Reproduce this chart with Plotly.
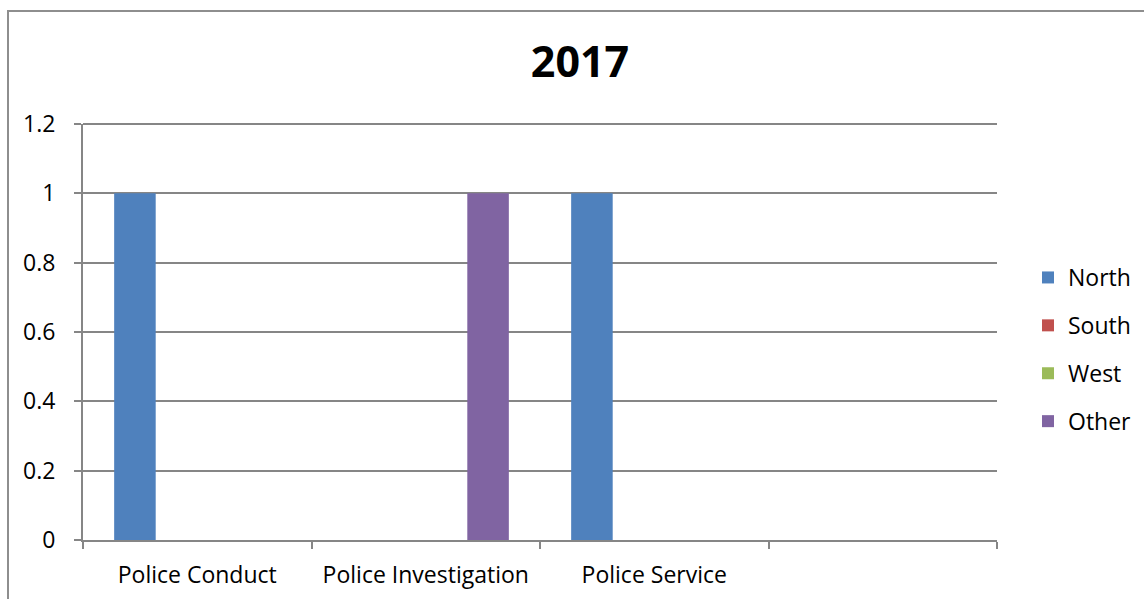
import plotly.graph_objects as go

# Complaint categories (the fourth slot is an empty category on the axis)
categories = ["Police Conduct", "Police Investigation", "Police Service", " "]

# Counts per region for each category
north = [1, 0, 1, None]
south = [0, 0, 0, None]
west = [0, 0, 0, None]
other = [0, 1, 0, None]

series = [
    ("North", north, "#4F81BD"),
    ("South", south, "#C0504D"),
    ("West", west, "#9BBB59"),
    ("Other", other, "#8064A2"),
]

Y_MAX = 1.2

W, H = 1144, 599
L, R, T, B = 83, 147, 124, 59
pw, ph = W - L - R, H - T - B

GRID = "#868686"
FONT = "Open Sans"
FS = 23

fig = go.Figure()
for name, vals, color in series:
    fig.add_trace(go.Bar(
        x=categories, y=vals, name=name, legendgroup=name,
        marker=dict(color=color, line=dict(width=0)),
    ))

# outer chart frame
def px_x(px):
    return (px - L) / pw

def px_y(py):
    return (H - B - py) / ph

fig.add_shape(type="rect", xref="paper", yref="paper",
              x0=px_x(8), x1=px_x(1160), y0=px_y(620), y1=px_y(11),
              line=dict(color="#8E8E8E", width=2), fillcolor="rgba(0,0,0,0)",
              layer="below")

# gridline along the top edge of the plot (top of the value range)
fig.add_shape(type="line", xref="paper", yref="paper",
              x0=0, x1=1, y0=1, y1=1,
              line=dict(color=GRID, width=2), layer="below")

fig.update_layout(
    width=W, height=H,
    margin=dict(l=L, r=R, t=T, b=B, autoexpand=False),
    paper_bgcolor="white", plot_bgcolor="white",
    font=dict(family=FONT, size=FS, color="#000000"),
    title=dict(text="<b>2017</b>", x=580 / W, xanchor="center",
               y=1 - 62 / H, yanchor="middle",
               font=dict(family=FONT, size=43, color="#000000")),
    barmode="group", bargap=1.5 / 5.5, bargroupgap=0,
    showlegend=True,
    legend=dict(x=px_x(1028), xanchor="left", y=px_y(256), yanchor="top",
                font=dict(family=FONT, size=FS, color="#000000"),
                tracegroupgap=15, bgcolor="rgba(0,0,0,0)", borderwidth=0,
                itemwidth=30),
    xaxis=dict(
        type="category", range=[-0.5, 3.5],
        showline=True, linecolor=GRID, linewidth=2,
        ticks="outside", tickson="boundaries", ticklen=7, tickwidth=2,
        tickcolor=GRID, showgrid=False, ticklabelstandoff=13,
        tickfont=dict(family=FONT, size=FS, color="#000000"),
    ),
    yaxis=dict(
        range=[0, Y_MAX], dtick=0.2, tick0=0,
        showline=True, linecolor=GRID, linewidth=2,
        ticks="outside", ticklen=7, tickwidth=2, tickcolor=GRID,
        showgrid=True, gridcolor=GRID, gridwidth=2, zeroline=False,
        ticklabelstandoff=14,
        tickfont=dict(family=FONT, size=FS, color="#000000"),
    ),
)

fig.write_html("out.html")
